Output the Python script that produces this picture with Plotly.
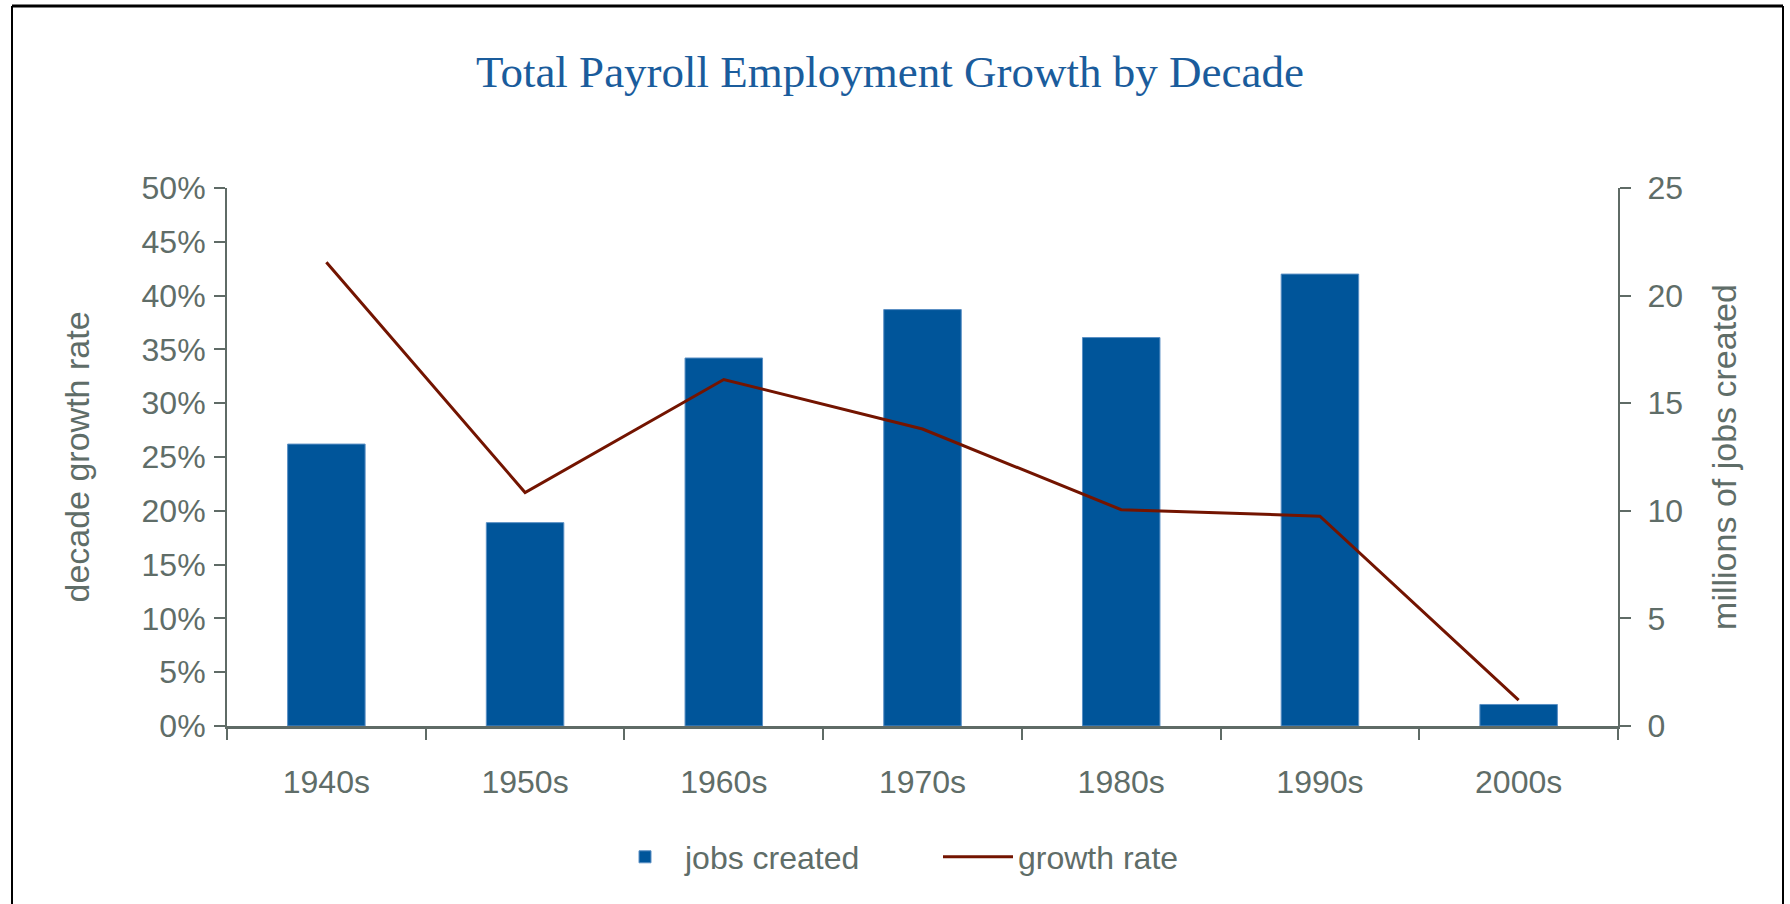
import plotly.graph_objects as go

decades = ["1940s", "1950s", "1960s", "1970s", "1980s", "1990s", "2000s"]
jobs_created = [13.1, 9.45, 17.1, 19.35, 18.05, 21.0, 1.0]      # millions
growth_rate = [43.1, 21.7, 32.2, 27.6, 20.1, 19.5, 2.4]         # percent

left_tick_vals = [0, 5, 10, 15, 20, 25, 30, 35, 40, 45, 50]
left_tick_text = ["0%", "5%", "10%", "15%", "20%", "25%", "30%", "35%", "40%", "45%", "50%"]
right_tick_vals = [0, 5, 10, 15, 20, 25]

GRAY = "#5f6d68"
AXIS = "#5f6b66"
BAR = "#00559a"
LINE = "#731400"
FONT = "Liberation Sans, Arial, sans-serif"

W, H = 1790, 904
L, R, T, B = 227, 172, 188, 178

fig = go.Figure()
fig.add_trace(go.Bar(
    x=decades, y=jobs_created, name="jobs created",
    marker=dict(color=BAR, line=dict(color="#5a8fc4", width=1)),
    yaxis="y",
))
fig.add_trace(go.Scatter(
    x=decades, y=growth_rate, name="growth rate", mode="lines",
    line=dict(color=LINE, width=3),
    yaxis="y2",
))

def px_x(p):
    return (p - L) / (W - L - R)

def px_y(p):
    return (H - B - p) / (H - T - B)

fig.update_layout(
    width=W, height=H,
    margin=dict(l=L, r=R, t=T, b=B),
    paper_bgcolor="white", plot_bgcolor="white",
    bargap=0.61,
    font=dict(family=FONT, size=32, color=GRAY),
    title=dict(
        text="Total Payroll Employment Growth by Decade",
        font=dict(family="Liberation Serif, Times New Roman, serif", size=45, color="#1a5c9c"),
        x=px_x(890), xanchor="center", xref="paper", y=1 - 71 / H, yanchor="middle",
    ),
    xaxis=dict(
        type="category", showline=True, linecolor=AXIS, linewidth=3,
        ticks="outside", tickson="boundaries", ticklen=11, tickwidth=2, tickcolor=AXIS,
        showgrid=False, zeroline=False,
        tickfont=dict(size=32, color=GRAY), ticklabelstandoff=26,
    ),
    yaxis=dict(
        side="right", range=[0, 25], tickvals=right_tick_vals,
        showline=True, linecolor=AXIS, linewidth=2,
        ticks="outside", ticklen=11, tickwidth=2, tickcolor=AXIS,
        showgrid=False, zeroline=False,
        tickfont=dict(size=32, color=GRAY), ticklabelstandoff=10,
        title=dict(text="millions of jobs created", font=dict(size=34, color=GRAY), standoff=30),
    ),
    yaxis2=dict(
        overlaying="y", side="left", range=[0, 50],
        tickvals=left_tick_vals, ticktext=left_tick_text,
        showline=True, linecolor=AXIS, linewidth=2,
        ticks="outside", ticklen=11, tickwidth=2, tickcolor=AXIS,
        showgrid=False, zeroline=False,
        tickfont=dict(size=32, color=GRAY), ticklabelstandoff=2,
        title=dict(text="decade growth rate", font=dict(size=34, color=GRAY), standoff=42),
    ),
    legend=dict(
        orientation="h", x=px_x(605), xanchor="left", y=px_y(857), yanchor="middle",
        font=dict(size=32, color=GRAY), itemwidth=70, entrywidth=248, entrywidthmode="pixels",
        traceorder="normal", bgcolor="rgba(0,0,0,0)",
    ),
    showlegend=True,
)

# outer chart frame
fig.add_shape(type="line", xref="paper", yref="paper",
              x0=px_x(12), x1=px_x(1783), y0=px_y(6), y1=px_y(6),
              line=dict(color="black", width=3))
fig.add_shape(type="line", xref="paper", yref="paper",
              x0=px_x(12), x1=px_x(12), y0=px_y(6), y1=px_y(910),
              line=dict(color="black", width=2))
fig.add_shape(type="line", xref="paper", yref="paper",
              x0=px_x(1783), x1=px_x(1783), y0=px_y(6), y1=px_y(910),
              line=dict(color="black", width=2))

fig.write_html("out.html")
